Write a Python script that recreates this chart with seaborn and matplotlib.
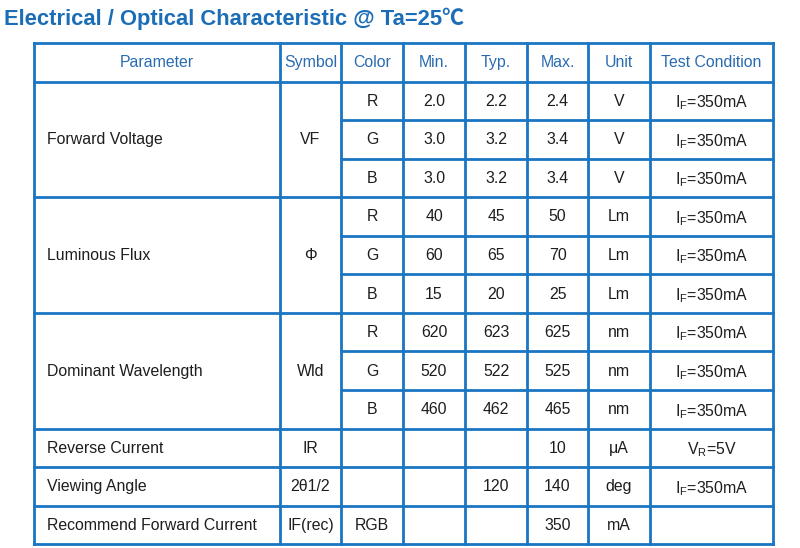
import matplotlib
matplotlib.use("Agg")
import matplotlib.pyplot as plt
import seaborn as sns

title = "Electrical / Optical Characteristic @ Ta=25\u2103"
header = ["Parameter", "Symbol", "Color", "Min.", "Typ.", "Max.", "Unit", "Test Condition"]

params = ["Forward Voltage", "Luminous Flux", "Dominant Wavelength",
          "Reverse Current", "Viewing Angle", "Recommend Forward Current"]
symbols = ["VF", "\u03a6", "Wld", "IR", "2\u03b81/2", "IF(rec)"]
group_sizes = [3, 3, 3, 1, 1, 1]

colors = ["R", "G", "B", "R", "G", "B", "R", "G", "B", "", "", "RGB"]
min_vals = ["2.0", "3.0", "3.0", "40", "60", "15", "620", "520", "460", "", "", ""]
typ_vals = ["2.2", "3.2", "3.2", "45", "65", "20", "623", "522", "462", "", "120", ""]
max_vals = ["2.4", "3.4", "3.4", "50", "70", "25", "625", "525", "465", "10", "140", "350"]
units = ["V", "V", "V", "Lm", "Lm", "Lm", "nm", "nm", "nm", "\u03bcA", "deg", "mA"]
cond_if = r"$\mathregular{I_F}$=350mA"
cond_vr = r"$\mathregular{V_R}$=5V"
conditions = [cond_if] * 9 + [cond_vr, cond_if, ""]

# layout (pixels)
col_edges = [34, 280, 341, 403, 465, 527, 588, 650, 773]
top = 43
row_h = 38.55
line_c = "#1a76c2"
title_c = "#1a6db6"
head_c = "#2a6bb0"
text_c = "#1e1e1e"
fs = 11.4

sns.set_theme(style="white")
plt.rcParams["font.family"] = ["Liberation Sans", "DejaVu Sans"]
plt.rcParams["mathtext.fontset"] = "custom"
plt.rcParams["mathtext.rm"] = "Liberation Sans"

fig = plt.figure(figsize=(8, 5.48), dpi=100)
ax = fig.add_axes([0, 0, 1, 1])
ax.set_xlim(0, 800)
ax.set_ylim(548, 0)
ax.axis("off")

ax.text(4, 19, title, fontsize=15.8, fontweight="bold", color=title_c,
        ha="left", va="center", family=["Liberation Sans", "Noto Sans CJK SC"])

n_rows = len(colors)
bottom = top + row_h * (n_rows + 1)
lw = 2.0

# outer and vertical lines
for x in col_edges:
    ax.plot([x, x], [top, bottom], color=line_c, lw=lw, solid_capstyle="projecting")
ax.plot([col_edges[0], col_edges[-1]], [top, top], color=line_c, lw=lw, solid_capstyle="projecting")

# header
for i, h in enumerate(header):
    cx = (col_edges[i] + col_edges[i + 1]) / 2
    ax.text(cx, top + row_h / 2 + 0.5, h, fontsize=fs, color=head_c, ha="center", va="center")

# body
r = 0
for g, size in enumerate(group_sizes):
    y0 = top + row_h * (r + 1)
    ymid = y0 + row_h * size / 2 + 0.5
    ax.text(col_edges[0] + 13, ymid, params[g], fontsize=fs, color=text_c, ha="left", va="center")
    ax.text((col_edges[1] + col_edges[2]) / 2, ymid, symbols[g], fontsize=fs,
            color=text_c, ha="center", va="center")
    # group separator (full width)
    ax.plot([col_edges[0], col_edges[-1]], [y0, y0], color=line_c, lw=lw, solid_capstyle="projecting")
    for k in range(size):
        yr = y0 + row_h * k
        if k > 0:
            ax.plot([col_edges[2], col_edges[-1]], [yr, yr], color=line_c, lw=lw)
        cells = [colors[r + k], min_vals[r + k], typ_vals[r + k], max_vals[r + k],
                 units[r + k], conditions[r + k]]
        for j, val in enumerate(cells):
            cx = (col_edges[j + 2] + col_edges[j + 3]) / 2
            dy = 2.0 if val.startswith("$") else 0.5
            ax.text(cx, yr + row_h / 2 + dy, val, fontsize=fs, color=text_c,
                    ha="center", va="center")
    r += size

ax.plot([col_edges[0], col_edges[-1]], [bottom, bottom], color=line_c, lw=lw, solid_capstyle="projecting")

fig.savefig("out.png", dpi=100, facecolor="white")
